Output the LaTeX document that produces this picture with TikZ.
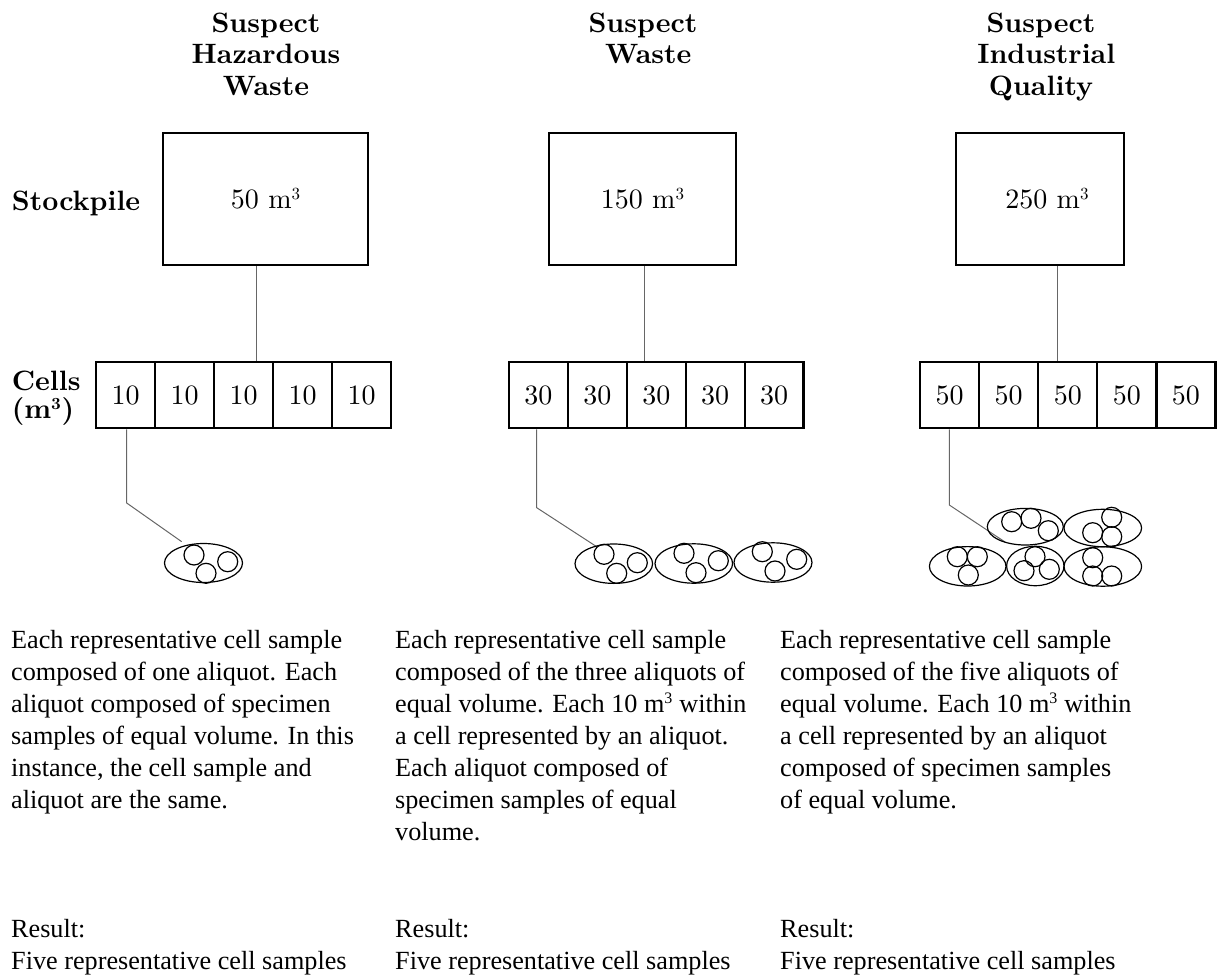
\documentclass[tikz,border=0pt]{standalone}
\usepackage{fontspec}
\newfontfamily\bodyff{Liberation Serif}
\newfontfamily\lmten{lmroman10-regular}[Extension=.otf, BoldFont=lmroman10-bold]
\newcommand\bodyfont{\bodyff\fontsize{26.2}{32}\selectfont}
\newcommand\lmfont{\lmten\fontsize{28}{31.5}\selectfont}
\newcommand\supthree{\textsuperscript{\fontsize{17}{17}\selectfont 3}}
\newcommand\bodysup{\textsuperscript{\fontsize{16}{16}\selectfont 3}}
\begin{document}
\begin{tikzpicture}[x=1pt,y=-1pt,
  box/.style={draw, line width=2.2pt, inner sep=0pt, font=\lmfont},
  cellbox/.style={draw, line width=2.2pt, minimum width=#1, minimum height=66pt, inner sep=0pt, font=\lmfont},
  link/.style={draw=black!60, line width=1pt},
  aliq/.style={draw=black, line width=1.2pt},
  title/.style={align=center, anchor=north, inner sep=0pt, font=\lmfont\bfseries},
  label/.style={align=left, inner sep=0pt, font=\lmfont\bfseries},
  para/.style={align=left, anchor=north west, inner sep=0pt, font=\bodyfont}]
\useasboundingbox (0,0) rectangle (1221,977);

% titles
\node[title] (t1) at (266,11) {\rule{0pt}{21pt}Suspect\\Hazardous\\Waste};
\node[title] (t2) at (643,11) {\rule{0pt}{21pt}Suspect\\\hspace*{0.38em}Waste};
\node[title] (t3) at (1041,11) {\rule{0pt}{21pt}Suspect\\\hspace*{0.38em}Industrial\\Quality};

% row labels
\node[label, anchor=base west] (lst) at (11.7,210) {Stockpile};
\node[label, anchor=north west] (lce) at (11.7,370) {\rule{0pt}{20pt}Cells\\[-3.5pt](m\supthree)};

% stockpile boxes
\node[box, minimum width=205pt, minimum height=132pt] (s1) at (265.8,199) {50 m\supthree};
\node[box, minimum width=186.7pt, minimum height=132pt] (s2) at (642.7,199) {150 m\supthree};
\node[box, minimum width=168.3pt, minimum height=132pt] (s3) at (1040.2,199) {\hspace*{0.5em}250 m\supthree};

% cells
\foreach \i in {1,...,5} {
  \node[cellbox=59pt] (c1-\i) at ({96+59*(\i-0.5)},395.3) {10};
  \node[cellbox=58.9pt] (c2-\i) at ({509+58.9*(\i-0.5)},395.3) {30};
  \node[cellbox=59.1pt] (c3-\i) at ({920+59.1*(\i-0.5)},395.3) {50};
}

% upper connectors
\coordinate (u1) at (256,0);
\coordinate (u2) at (644.3,0);
\coordinate (u3) at (1057.7,0);
\draw[link] (s1.south -| u1) -- (c1-3.north -| u1);
\draw[link] (s2.south -| u2) -- (c2-3.north -| u2);
\draw[link] (s3.south -| u3) -- (c3-3.north -| u3);

% lower connectors
\coordinate (k1) at (126.7,503);
\coordinate (a1) at (181.7,541.7);
\coordinate (k2) at (536.7,507.7);
\coordinate (a2) at (596.7,546.7);
\coordinate (k3) at (949.3,505);
\coordinate (a3) at (1005,542);
\draw[link] (c1-1.south -| k1) -- (k1) -- (a1);
\draw[link] (c2-1.south -| k2) -- (k2) -- (a2);
\draw[link] (c3-1.south -| k3) -- (k3) -- (a3);

% aliquots, column 1
\draw[aliq] (203.5,563) ellipse [x radius=39, y radius=19.5];
\foreach \p in {(194,555),(206,573.3),(227.7,561.7)} \draw[aliq] \p circle [radius=10];

% aliquots, column 2
\draw[aliq] (613.8,563.7) ellipse [x radius=38.8, y radius=19.7];
\draw[aliq] (693.8,563.5) ellipse [x radius=38.8, y radius=19.7];
\draw[aliq] (773,562.5) ellipse [x radius=39, y radius=19.7];
\foreach \p in {(604,554.3),(616.7,573.3),(637.3,562.7),
                (684,553.3),(696,572.7),(718.3,560.7),
                (762.3,551.7),(775,571),(796.7,559.3)} \draw[aliq] \p circle [radius=10];

% aliquots, column 3
\draw[aliq] (1025.3,526.7) ellipse [x radius=38, y radius=18.3];
\draw[aliq] (1102.8,528) ellipse [x radius=38.8, y radius=18.7];
\draw[aliq] (967.7,566.3) ellipse [x radius=38.3, y radius=19.7];
\draw[aliq] (1035.3,566) ellipse [x radius=28.7, y radius=19.7];
\draw[aliq] (1102.8,566.5) ellipse [x radius=38.8, y radius=19.7];
\foreach \p in {(1011.7,521.7),(1031,518.3),(1048.3,530.7),
                (1111.7,517.3),(1092.7,532.7),(1111.7,536.7),
                (957.3,556.7),(977.3,556.7),(968.3,575),
                (1035,556.7),(1024,570.7),(1049.3,569.3),
                (1092.7,557.7),(1092.7,576),(1111.7,576)} \draw[aliq] \p circle [radius=10];

% descriptions
\node[para] (p1) at (11,630) {\rule{0pt}{18pt}Each representative cell sample\\composed of one aliquot. Each\\aliquot composed of specimen\\samples of equal volume. In this\\instance, the cell sample and\\aliquot are the same.};
\node[para] (p2) at (395,630) {\rule{0pt}{18pt}Each representative cell sample\\composed of the three aliquots of\\equal volume. Each 10 m\bodysup{} within\\a cell represented by an aliquot.\\Each aliquot composed of\\specimen samples of equal\\volume.};
\node[para] (p3) at (780,630) {\rule{0pt}{18pt}Each representative cell sample\\composed of the five aliquots of\\equal volume. Each 10 m\bodysup{} within\\a cell represented by an aliquot\\composed of specimen samples\\of equal volume.};

% results
\node[para] (r1) at (11,919) {\rule{0pt}{18pt}Result:\\Five representative cell samples};
\node[para] (r2) at (395,919) {\rule{0pt}{18pt}Result:\\Five representative cell samples};
\node[para] (r3) at (780,919) {\rule{0pt}{18pt}Result:\\Five representative cell samples};
\end{tikzpicture}
\end{document}
